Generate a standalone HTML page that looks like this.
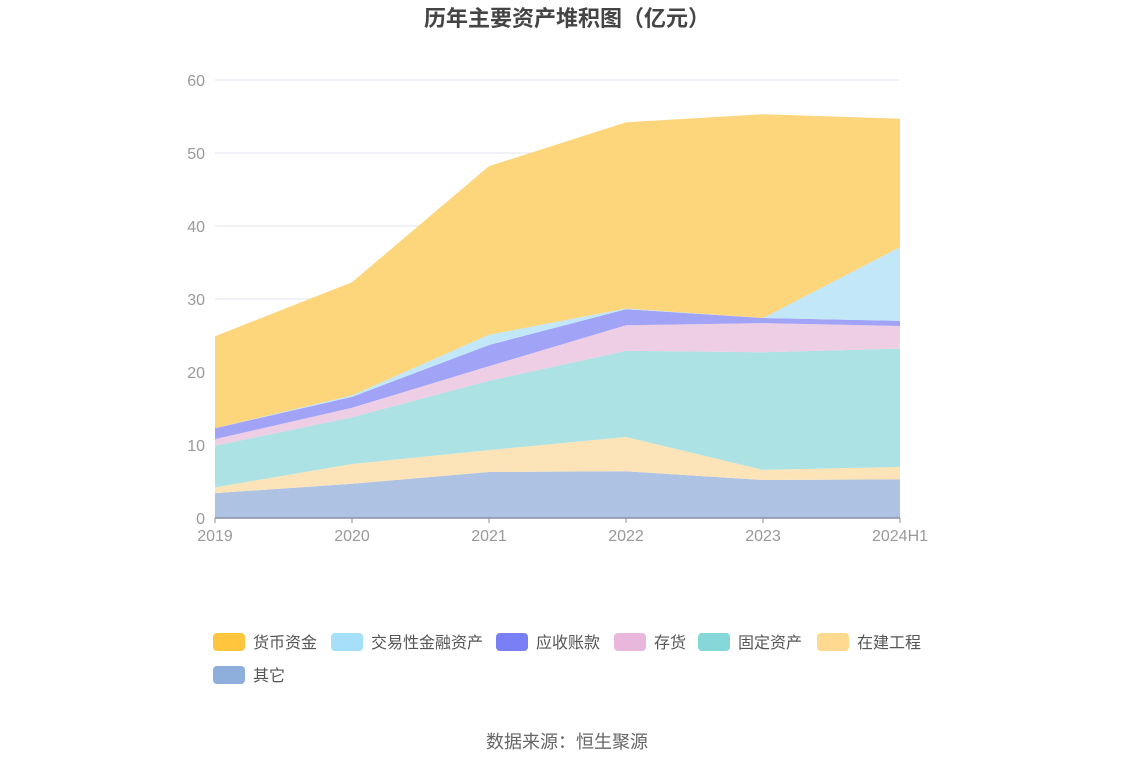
<!DOCTYPE html>
<html><head><meta charset="utf-8"><style>
body{margin:0;background:#fff;font-family:"Liberation Sans","Noto Sans CJK SC",sans-serif;}
svg text{font-family:"Liberation Sans","Noto Sans CJK SC",sans-serif;}
</style></head><body>
<svg width="1134" height="766">
<text x="567" y="26" text-anchor="middle" font-size="22" font-weight="bold" fill="#444">历年主要资产堆积图（亿元）</text>
<g id="grid"></g>
<g id="areas"></g>
<g id="axes"></g>
<g id="legend"></g>
<text x="567" y="748" text-anchor="middle" font-size="18" fill="#666">数据来源：恒生聚源</text>
</svg>
<script>
const categories=["2019","2020","2021","2022","2023","2024H1"];
const seriesNames=["其它","在建工程","固定资产","存货","应收账款","交易性金融资产","货币资金"];
const other=[3.4,4.7,6.3,6.4,5.2,5.3];
const construction=[0.8,2.7,3.0,4.7,1.4,1.7];
const fixedAssets=[5.7,6.4,9.5,11.8,16.1,16.2];
const inventory=[0.9,1.3,2.0,3.5,4.0,3.1];
const receivables=[1.5,1.5,2.9,2.2,0.7,0.7];
const tradingAssets=[0,0.2,1.4,0.1,0,10.1];
const cash=[12.6,15.5,23.1,25.5,27.9,17.6];
const yTicks=[0,10,20,30,40,50,60];
const areaColors=["#aec3e3","#fde4b8","#ace2e3","#eecee4","#a0a3f6","#c1e7f9","#fdd57b"];
const legendColors=["#8eaedc","#ffd98f","#86d7d8","#eab7dc","#7b7ff5","#a5dff9","#ffc53d"];
const NS="http://www.w3.org/2000/svg";
const x0=215,x1=900,y0=518,yTop=80;
const xs=i=>x0+i*(x1-x0)/(categories.length-1);
const ys=v=>y0-v*(y0-yTop)/60;
function mk(tag,attrs,parent){const e=document.createElementNS(NS,tag);for(const k in attrs)e.setAttribute(k,attrs[k]);parent.appendChild(e);return e;}
const grid=document.getElementById('grid'),axes=document.getElementById('axes'),areas=document.getElementById('areas'),legend=document.getElementById('legend');
yTicks.forEach(t=>{
  if(t>0){const l=mk('line',{x1:x0,x2:x1,y1:ys(t),y2:ys(t),stroke:'#e3e6f0','stroke-width':1},grid);
  
  }
  const tx=mk('text',{x:205,y:ys(t)+6,'text-anchor':'end','font-size':16,fill:'#999'},axes);tx.textContent=t;
  
  
});
const data=[other,construction,fixedAssets,inventory,receivables,tradingAssets,cash];
let base=categories.map(()=>0);
data.forEach((s,si)=>{
  const top=base.map((b,i)=>b+s[i]);
  let d='M'+top.map((v,i)=>xs(i)+','+ys(v)).join('L');
  for(let i=categories.length-1;i>=0;i--)d+='L'+xs(i)+','+ys(base[i]);
  const p=mk('path',{d:d+'Z',fill:areaColors[si]},areas);
  
  
  base=top;
});
const ax=mk('line',{x1:x0,x2:x1,y1:y0,y2:y0,stroke:'#8a8fa6','stroke-width':1.5},axes);


categories.forEach((c,i)=>{
  const tk=mk('line',{x1:xs(i),x2:xs(i),y1:y0,y2:y0+5,stroke:'#8a8fa6'},axes);
  
  
  const t=mk('text',{x:xs(i),y:541,'text-anchor':'middle','font-size':16,fill:'#999'},axes);t.textContent=c;
  
  
});
const legendOrder=[6,5,4,3,2,1,0];
const legendX=[213,331,496,614,698,817,213];
const legendY=[642,642,642,642,642,642,675];
legendOrder.forEach((si,k)=>{
  const g=mk('g',{},legend);
  
  
  mk('rect',{x:legendX[k],y:legendY[k]-9,width:32,height:18,rx:4,fill:legendColors[si]},g);
  const t=mk('text',{x:legendX[k]+40,y:legendY[k]+6,'font-size':16,fill:'#555'},g);t.textContent=seriesNames[si];
});
</script>
</body></html>
